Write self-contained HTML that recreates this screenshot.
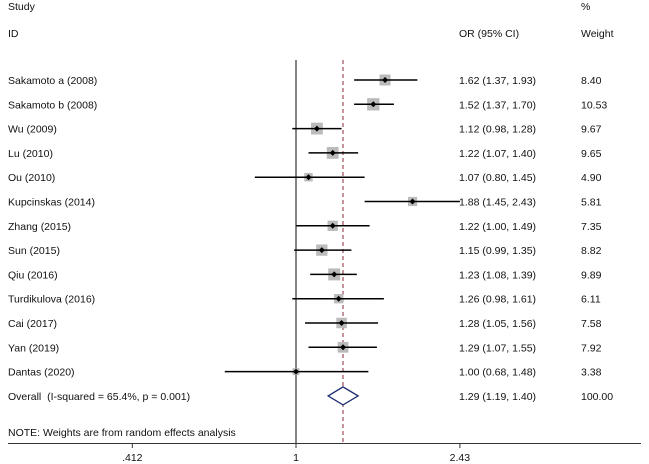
<!DOCTYPE html>
<html><head><meta charset="utf-8"><style>
body{margin:0;background:#fff;}
svg{display:block;font-family:"Liberation Sans",Arial,sans-serif;font-size:10.5px;fill:#111;}
</style></head><body>
<svg id="chart" width="649" height="464" viewBox="0 0 649 464"></svg>
<script>
const studies=["Sakamoto a (2008)","Sakamoto b (2008)","Wu (2009)","Lu (2010)","Ou (2010)","Kupcinskas (2014)","Zhang (2015)","Sun (2015)","Qiu (2016)","Turdikulova (2016)","Cai (2017)","Yan (2019)","Dantas (2020)"];
const orVals=[1.62,1.52,1.12,1.22,1.07,1.88,1.22,1.15,1.23,1.26,1.28,1.29,1.00];
const lowVals=[1.37,1.37,0.98,1.07,0.80,1.45,1.00,0.99,1.08,0.98,1.05,1.07,0.68];
const highVals=[1.93,1.70,1.28,1.40,1.45,2.43,1.49,1.35,1.39,1.61,1.56,1.55,1.48];
const weights=[8.40,10.53,9.67,9.65,4.90,5.81,7.35,8.82,9.89,6.11,7.58,7.92,3.38];
const overall=[1.29,1.19,1.40];
const overallLabel="Overall\u00a0\u00a0(I-squared = 65.4%, p = 0.001)";
const tickVals=[0.412,1,2.43];
const tickLabels=[".412","1","2.43"];

const svg=document.getElementById('chart');
const NS="http://www.w3.org/2000/svg";
const x=v=>296+184.6*Math.log(v);
const y=i=>80+24.3*i;
function el(t,a,txt){const e=document.createElementNS(NS,t);for(const k in a)e.setAttribute(k,a[k]);if(txt!=null)e.textContent=txt;svg.appendChild(e);return e;}
const f=(n)=>n.toFixed(2);

let e;
e=el('text',{x:8,y:10},"Study");
e=el('text',{x:8,y:37},"ID");
e=el('text',{x:459,y:37},"OR (95% CI)");
e=el('text',{x:581,y:10},"%");
e=el('text',{x:581,y:37},"Weight");

e=el('line',{x1:x(1),y1:60,x2:x(1),y2:443,stroke:'#333','stroke-width':1.2});
e=el('line',{x1:x(overall[0]),y1:60,x2:x(overall[0]),y2:443,stroke:'#8b2a3a','stroke-width':1,'stroke-dasharray':'4,3'});

studies.forEach((s,i)=>{
  const yy=y(i);
  let t=el('text',{x:8,y:yy+4},s);
  const side=3.8*Math.sqrt(weights[i]);
  let b=el('rect',{x:x(orVals[i])-side/2,y:yy-side/2,width:side,height:side,fill:'#bbb'});
  let l=el('line',{x1:x(lowVals[i]),y1:yy,x2:x(highVals[i]),y2:yy,stroke:'#000','stroke-width':1.5});
  let p=el('path',{d:`M${x(orVals[i])-3},${yy}l3,-3l3,3l-3,3z`,fill:'#000'});
  let o=el('text',{x:459,y:yy+4},`${f(orVals[i])} (${f(lowVals[i])}, ${f(highVals[i])})`);
  let w=el('text',{x:581,y:yy+4},f(weights[i]));
});
const oy=y(studies.length);
e=el('text',{x:8,y:oy+4},overallLabel);
e=el('path',{d:`M${x(overall[1])},${oy}L${x(overall[0])},${oy-9}L${x(overall[2])},${oy}L${x(overall[0])},${oy+9}Z`,fill:'#fff',stroke:'#1a2a6e','stroke-width':1.3});
e=el('text',{x:459,y:oy+4},`${f(overall[0])} (${f(overall[1])}, ${f(overall[2])})`);
e=el('text',{x:581,y:oy+4},"100.00");
e=el('text',{x:8,y:436},"NOTE: Weights are from random effects analysis");

e=el('line',{x1:8,y1:443.5,x2:641,y2:443.5,stroke:'#333','stroke-width':1});
tickVals.forEach((v,i)=>{
  let tk=el('line',{x1:x(v),y1:443,x2:x(v),y2:448,stroke:'#333'});
  let tl=el('text',{x:x(v),y:461,'text-anchor':'middle'},tickLabels[i]);
});
</script>
</body></html>
